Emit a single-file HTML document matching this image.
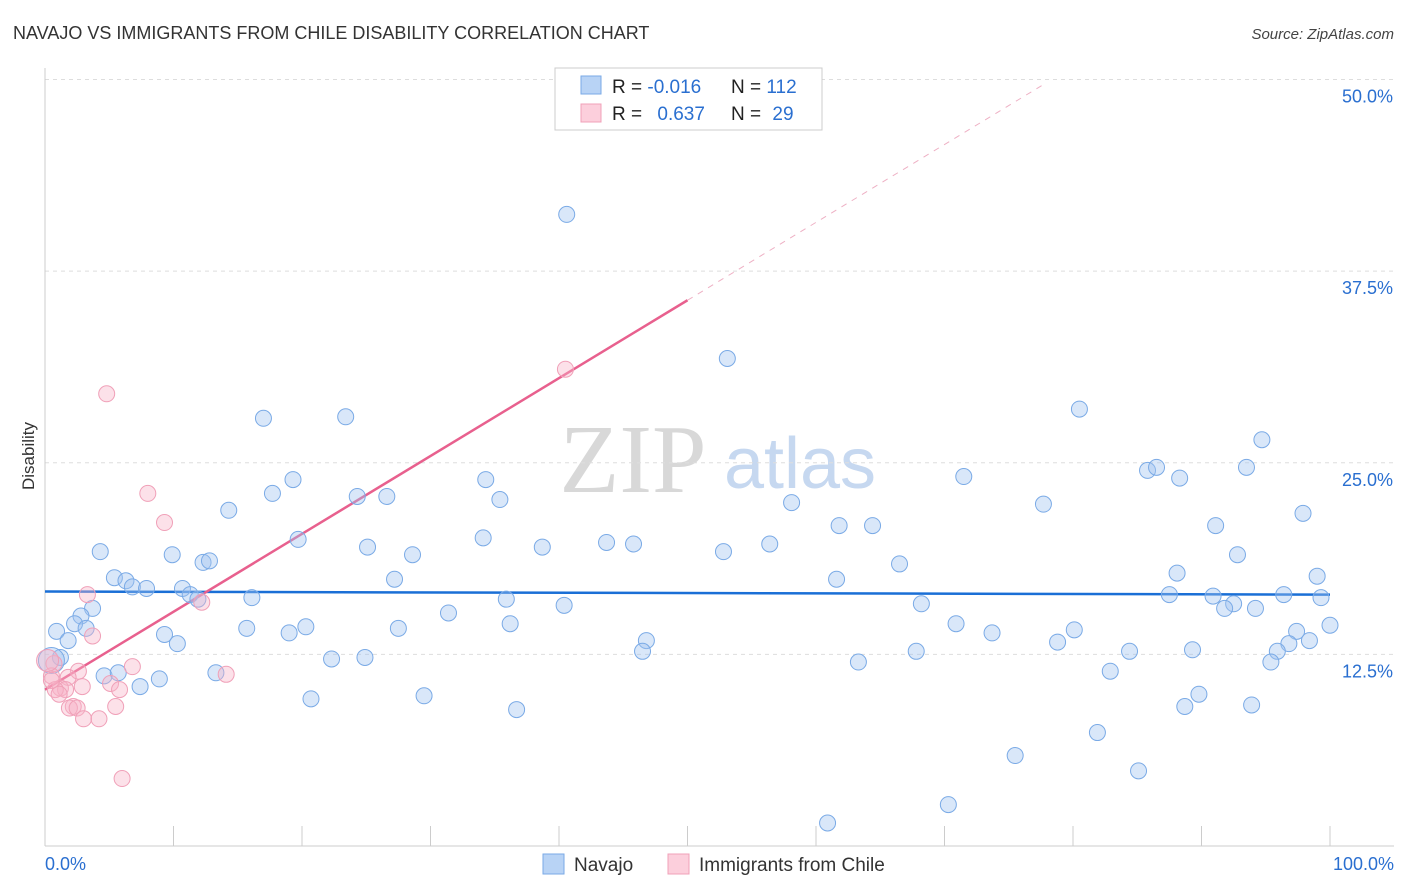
<!DOCTYPE html>
<html><head><meta charset="utf-8"><style>
html,body{margin:0;padding:0;background:#fff;}
svg{display:block;font-family:"Liberation Sans",sans-serif;}
</style></head><body>
<svg id="chart" width="1406" height="892" viewBox="0 0 1406 892" xmlns="http://www.w3.org/2000/svg">
<text x="13" y="39" font-size="18" fill="#333">NAVAJO VS IMMIGRANTS FROM CHILE DISABILITY CORRELATION CHART</text>
<text x="1394" y="39" font-size="15" fill="#444" text-anchor="end" font-style="italic">Source: ZipAtlas.com</text>
<text transform="translate(34,456) rotate(-90)" font-size="17" fill="#333" text-anchor="middle">Disability</text>
<g>
<text x="633" y="492" font-size="98" font-family="Liberation Serif,serif" fill="#d8d8d8" text-anchor="middle">ZIP</text>
<text x="800" y="488" font-size="72" fill="#c6d8f0" text-anchor="middle">atlas</text>
</g>
<g id="grid"></g>
<g id="axes"></g>
<g id="lines"></g>
<g id="points"></g>
<g>
<rect x="555" y="68" width="267" height="62" fill="#fff" stroke="#ccc"/>
<rect x="581" y="76" width="20" height="18" fill="#b8d3f5" stroke="#7aaae6"/>
<rect x="581" y="104" width="20" height="18" fill="#fccfdc" stroke="#f0a0b8"/>
<text x="612" y="93" font-size="19" fill="#222">R = <tspan fill="#2a6fd0">-0.016</tspan></text>
<text x="731" y="93" font-size="19" fill="#222">N = <tspan fill="#2a6fd0">112</tspan></text>
<text x="612" y="120" font-size="19" fill="#222">R = <tspan fill="#2a6fd0" dx="10">0.637</tspan></text>
<text x="731" y="120" font-size="19" fill="#222">N = <tspan fill="#2a6fd0" dx="6">29</tspan></text>
</g>
<g>
<rect x="543" y="854" width="21" height="20" fill="#b8d3f5" stroke="#7aaae6"/>
<text x="574" y="871" font-size="19" fill="#333">Navajo</text>
<rect x="668" y="854" width="21" height="20" fill="#fccfdc" stroke="#f0a0b8"/>
<text x="699" y="871" font-size="19" fill="#333">Immigrants from Chile</text>
</g>
</svg>
<script>
const navajoX=[40.6,53.1,17.0,23.4,80.5,94.7,19.3,17.7,34.3,24.3,26.6,35.4,14.3,71.5,85.8,86.5,88.3,93.5,58.1,77.7,97.9,61.8,64.4,91.1,34.1,19.7,43.7,45.8,38.7,25.1,28.6,52.8,56.4,4.3,9.9,12.3,12.8,92.8,66.5,5.4,6.3,6.8,7.9,10.7,11.3,11.9,16.1,27.2,61.6,88.1,99.0,87.5,90.9,96.4,99.3,35.9,40.4,68.2,92.5,91.8,94.2,3.7,2.8,31.4,2.3,3.2,0.9,9.3,10.3,15.7,19.0,20.3,27.5,36.2,70.9,73.7,80.1,78.8,100.0,97.4,98.4,96.8,95.9,95.4,46.8,46.5,67.8,84.4,89.3,1.8,1.2,22.3,24.9,63.3,82.9,13.3,4.6,5.7,8.9,7.4,20.7,29.5,36.7,89.8,88.7,93.9,81.9,75.5,85.1,70.3,60.9,0.5];
const navajoY=[41.2,31.8,27.9,28.0,28.5,26.5,23.9,23.0,23.9,22.8,22.8,22.6,21.9,24.1,24.5,24.7,24.0,24.7,22.4,22.3,21.7,20.9,20.9,20.9,20.1,20.0,19.8,19.7,19.5,19.5,19.0,19.2,19.7,19.2,19.0,18.5,18.6,19.0,18.4,17.5,17.3,16.9,16.8,16.8,16.4,16.1,16.2,17.4,17.4,17.8,17.6,16.4,16.3,16.4,16.2,16.1,15.7,15.8,15.8,15.5,15.5,15.5,15.0,15.2,14.5,14.2,14.0,13.8,13.2,14.2,13.9,14.3,14.2,14.5,14.5,13.9,14.1,13.3,14.4,14.0,13.4,13.2,12.7,12.0,13.4,12.7,12.7,12.7,12.8,13.4,12.3,12.2,12.3,12.0,11.4,11.3,11.1,11.3,10.9,10.4,9.6,9.8,8.9,9.9,9.1,9.2,7.4,5.9,4.9,2.7,1.5,12.1];
const chileX=[4.8,8.0,9.3,40.5,3.3,12.2,3.7,14.1,6.8,2.6,0.7,0.5,1.8,2.9,5.1,1.2,1.6,0.8,1.1,5.8,2.2,1.9,2.5,5.5,3.0,4.2,6.0,0.2,0.5];
const chileY=[29.5,23.0,21.1,31.1,16.4,15.9,13.7,11.2,11.7,11.4,11.9,11.1,11.0,10.4,10.6,10.3,10.2,10.2,9.9,10.2,9.1,9.0,9.0,9.1,8.3,8.3,4.4,12.1,10.8];
const yTicks=[12.5,25.0,37.5,50.0];
const xTicks=[0,10,20,30,40,50,60,70,80,90,100];
const navajoTrend=[16.6,16.4];
const chileTrend=[10.2,0.508];

const NS="http://www.w3.org/2000/svg";
const X=v=>45+v*12.85;
const Y=v=>846-v*15.33;
function mk(tag,attrs,parent){const e=document.createElementNS(NS,tag);for(const k in attrs)e.setAttribute(k,attrs[k]);parent.appendChild(e);return e;}
const grid=document.getElementById('grid'),axes=document.getElementById('axes'),lines=document.getElementById('lines'),pts=document.getElementById('points');
yTicks.forEach(t=>{
 const l=mk('line',{x1:45,x2:1394,y1:Y(t),y2:Y(t),stroke:'#ddd','stroke-dasharray':'4,4'},grid);
 
 
 const tx=mk('text',{x:1393,y:Y(t)+23,'font-size':18,fill:'#2a6fd0','text-anchor':'end'},grid);
 tx.textContent=t.toFixed(1)+'%';
 
 
});
const xa=mk('line',{x1:45,x2:1394,y1:846,y2:846,stroke:'#ccc'},axes);


const ya=mk('line',{x1:45,x2:45,y1:68,y2:846,stroke:'#ccc'},axes);


xTicks.forEach(t=>{
 const l=mk('line',{x1:X(t),x2:X(t),y1:826,y2:846,stroke:'#ccc'},axes);
 
 
});
const xl0=mk('text',{x:45,y:870,'font-size':18,fill:'#2a6fd0'},axes);xl0.textContent='0.0%';


const xl1=mk('text',{x:1394,y:870,'font-size':18,fill:'#2a6fd0','text-anchor':'end'},axes);xl1.textContent='100.0%';



navajoX.forEach((v,i)=>{
 const big=i===navajoX.length-1;
 const c=mk('circle',{cx:X(v),cy:Y(navajoY[i]),r:big?13:8,fill:'rgba(160,196,240,0.4)',stroke:'#7aaae6','stroke-width':1},pts);
 
 
});
chileX.forEach((v,i)=>{
 const c=mk('circle',{cx:X(v),cy:Y(chileY[i]),r:i===chileX.length-2?11:8,fill:'rgba(248,180,200,0.4)',stroke:'#f0a0b8','stroke-width':1},pts);
 
 
});
const bl=mk('line',{x1:X(0),x2:X(100),y1:Y(navajoTrend[0]),y2:Y(navajoTrend[1]),stroke:'#1a6fd6','stroke-width':2.5},lines);


const cy=x=>chileTrend[0]+chileTrend[1]*x;
const pl=mk('line',{x1:X(0),x2:X(50),y1:Y(cy(0)),y2:Y(cy(50)),stroke:'#e8608e','stroke-width':2.5},lines);


const pd=mk('line',{x1:X(50),x2:X(77.7),y1:Y(cy(50)),y2:Y(cy(77.7)),stroke:'#eeb0c4','stroke-width':1,'stroke-dasharray':'6,6'},lines);


</script>
</body></html>
